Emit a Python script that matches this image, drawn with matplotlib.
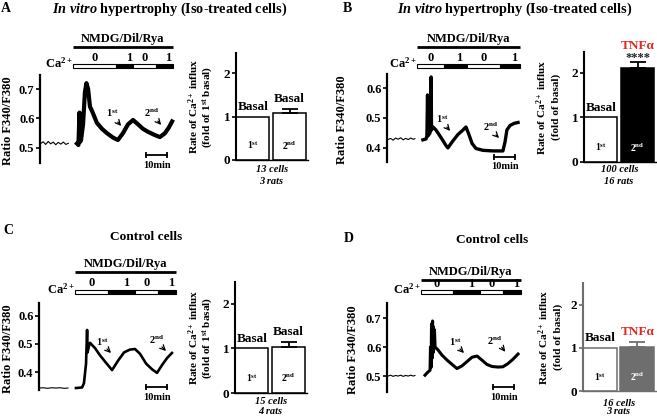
import matplotlib
matplotlib.use('Agg')
import matplotlib.pyplot as plt
from matplotlib.patches import Rectangle
from matplotlib.transforms import blended_transform_factory as btf

W, H = 657, 417
plt.rcParams.update({
    'font.family': ['Liberation Serif', 'DejaVu Serif'],
    'font.weight': 'bold',
    'mathtext.fontset': 'custom',
    'mathtext.rm': 'Liberation Serif:bold',
    'mathtext.it': 'Liberation Serif:italic:bold',
    'mathtext.bf': 'Liberation Serif:bold',
})

# ---------------- data ----------------
# traces: time (min) and ratio F340/F380
a_base_t = [0.3, 1.5, 2.7, 3.9, 5.1, 6.3, 7.5, 8.7, 9.9, 11.1, 12.3, 13.5]
a_base_v = [0.515, 0.521, 0.512, 0.522, 0.514, 0.520, 0.511, 0.519, 0.513, 0.520, 0.512, 0.516]
a_t = [17.6, 18.3, 18.8, 19.0, 19.5, 20.5, 21.4, 22.1, 22.9, 23.8, 24.8, 27.1, 29.5, 31.9, 34.8,
       37.1, 39.5, 41.9, 44.3, 46.7, 49.0, 51.4, 54.3, 57.1, 59.5, 61.4, 62.9]
a_v = [0.515, 0.510, 0.620, 0.520, 0.525, 0.580, 0.690, 0.720, 0.700, 0.640, 0.625, 0.585, 0.565,
       0.550, 0.535, 0.527, 0.550, 0.580, 0.595, 0.580, 0.565, 0.555, 0.545, 0.537, 0.550, 0.570, 0.590]

b_base_t = [0.5, 1.7, 2.9, 4.1, 5.3, 6.5, 7.7, 8.9, 10.1, 11.3, 12.5, 13.3]
b_base_v = [0.428, 0.432, 0.426, 0.433, 0.429, 0.434, 0.427, 0.432, 0.428, 0.433, 0.429, 0.431]
b_t = [17.1, 18.6, 19.0, 19.3, 19.5, 20.5, 21.0, 21.2, 21.9, 23.3, 25.7, 28.1, 29.0, 31.0, 33.8,
       36.2, 37.6, 39.0, 40.5, 42.4, 45.7, 50.5, 55.2, 56.2, 57.1, 58.6, 60.5, 62.4]
b_v = [0.427, 0.430, 0.440, 0.577, 0.440, 0.450, 0.637, 0.460, 0.470, 0.460, 0.435, 0.408, 0.400,
       0.420, 0.445, 0.460, 0.470, 0.445, 0.415, 0.398, 0.392, 0.390, 0.390, 0.420, 0.460, 0.475,
       0.482, 0.485]

c_base_t = [0.0, 2.0, 4.0, 6.0, 8.0, 10.0, 12.0, 13.8]
c_base_v = [0.343, 0.344, 0.342, 0.344, 0.343, 0.344, 0.342, 0.343]
c_t = [17.6, 20.5, 21.4, 22.4, 22.9, 23.1, 24.0, 24.3, 26.7, 29.0, 31.9, 34.8, 37.6, 40.5, 43.3,
       45.7, 48.1, 51.0, 53.8, 56.2, 58.6, 61.0, 63.3]
c_v = [0.343, 0.345, 0.360, 0.430, 0.550, 0.470, 0.500, 0.504, 0.485, 0.460, 0.433, 0.407, 0.440,
       0.470, 0.480, 0.482, 0.465, 0.430, 0.410, 0.397, 0.425, 0.450, 0.468]

d_base_t = [0.5, 1.7, 2.9, 4.1, 5.3, 6.5, 7.7, 8.9, 10.1, 11.3, 12.5, 13.3]
d_base_v = [0.500, 0.503, 0.499, 0.502, 0.500, 0.503, 0.499, 0.502, 0.500, 0.503, 0.500, 0.502]
d_t = [18.1, 19.5, 20.5, 20.7, 21.0, 21.2, 21.4, 21.7, 21.9, 22.1, 22.4, 22.6, 22.9, 24.3, 26.2,
       28.6, 31.0, 33.3, 35.7, 38.1, 40.5, 42.9, 45.2, 47.6, 50.0, 52.9, 55.2, 57.6, 60.0, 62.4]
d_v = [0.503, 0.514, 0.520, 0.600, 0.530, 0.680, 0.560, 0.690, 0.580, 0.670, 0.600, 0.660, 0.600,
       0.590, 0.572, 0.555, 0.540, 0.526, 0.535, 0.550, 0.565, 0.569, 0.555, 0.540, 0.533, 0.531,
       0.532, 0.543, 0.558, 0.576]

# Ca2+ protocol (state 0/1, boundaries in min)
a_proto_edges = [15.7, 36.2, 44.3, 55.2, 63.3]
b_proto_edges = [14.3, 27.1, 38.1, 53.8, 63.3]
c_proto_edges = [17.1, 32.9, 45.7, 56.7, 65.2]
d_proto_edges = [16.2, 31.4, 44.3, 55.2, 63.8]
proto_states = [0, 1, 0, 1]

# bar charts: rate of Ca2+ influx
bar_groups = ['1st', '2nd']
a_vals, a_errs = [1.0, 1.07], [0.0, 0.10]
b_vals, b_errs = [1.0, 2.12], [0.0, 0.13]
c_vals, c_errs = [1.0, 1.03], [0.0, 0.12]
d_vals, d_errs = [1.0, 1.02], [0.0, 0.13]
a_tops = ['Basal', 'Basal']
b_tops = ['Basal', 'TNFα']
c_tops = ['Basal', 'Basal']
d_tops = ['Basal', 'TNFα']

RED = '#e3261f'
GRAY = '#6e6e6e'

fig = plt.figure(figsize=(W / 100, H / 100), dpi=100)


def add_ax(l, t, r, b):
    return fig.add_axes([l / W, 1 - b / H, (r - l) / W, (b - t) / H])


def ftext(x, y, s, **kw):
    kw.setdefault('ha', 'center')
    kw.setdefault('va', 'center')
    return fig.text(x / W, 1 - y / H, s, **kw)


def farrow(x0, y0, x1, y1):
    fig.add_artist(matplotlib.patches.FancyArrowPatch(
        (x0 / W, 1 - y0 / H), (x1 / W, 1 - y1 / H), transform=fig.transFigure,
        arrowstyle='->', mutation_scale=9, lw=0.9, color='black'))


def trace_panel(box, ylim, yticks, bt, bv, t, v, lw, edges, nmdg_y, ca_y, lab_y,
                scale_t0, scale_y, arrows, ylab_x):
    l, tp, r, b = box
    ax = add_ax(*box)
    ax.set_xlim(0, (r - l) / 2.1)
    ax.set_ylim(*ylim)
    ax.plot(bt, bv, color='black', lw=0.8, clip_on=False)
    ax.plot(t, v, color='black', lw=lw, solid_joinstyle='round', clip_on=False)
    for s in ['top', 'right', 'bottom']:
        ax.spines[s].set_visible(False)
    ax.spines['left'].set_linewidth(1.6)
    ax.set_xticks([])
    ax.set_yticks(yticks)
    ax.set_yticklabels([f'{y:.1f}' for y in yticks])
    ax.tick_params(axis='y', length=3, width=1.2, labelsize=9, pad=1)
    ax.patch.set_alpha(0)
    ftext(ylab_x, (tp + b) / 2 + 2, 'Ratio F340/F380', rotation=90, fontsize=9)
    tr = btf(ax.transData, fig.transFigure)
    # NMDG bar
    ax.plot([edges[0], edges[-1]], [1 - nmdg_y / H] * 2, transform=tr, color='black',
            lw=2.0, clip_on=False, solid_capstyle='butt')
    ax.text((edges[0] + edges[-1]) / 2, 1 - (nmdg_y - 8) / H, 'NMDG/Dil/Rya', transform=tr,
            ha='center', va='center', fontsize=9)
    # Ca protocol bar
    hh = 4.0 / H
    for i, st in enumerate(proto_states):
        ax.add_patch(Rectangle((edges[i], 1 - ca_y / H - hh / 2), edges[i + 1] - edges[i], hh,
                               transform=tr, facecolor='black' if st else 'white',
                               edgecolor='black', lw=0.8, clip_on=False))
        ax.text((edges[i] + edges[i + 1]) / 2 + (2.0 if st else 0), 1 - lab_y / H, str(st),
                transform=tr, ha='center', va='center', fontsize=9)
    ax.text(edges[0] - 0.3, 1 - (ca_y - 3) / H, 'Ca$^{2+}$', transform=tr, ha='right',
            va='center', fontsize=9)
    # scale bar 10 min
    ax.plot([scale_t0, scale_t0 + 10], [1 - scale_y / H] * 2, transform=tr, color='black',
            lw=1.3, marker='|', ms=5, mew=1.3, clip_on=False)
    ax.text(scale_t0 + 5, 1 - (scale_y + 10) / H, '10min', transform=tr, ha='center',
            va='center', fontsize=7.5)
    for (tx, ty, s, x0, y0, x1, y1) in arrows:
        ftext(tx, ty, s, fontsize=7.5)
        farrow(x0, y0, x1, y1)
    return ax


def bar_panel(box, top_px, vals, errs, tops, top_colors, fills, edge, inner_colors,
              ylabel2, ylab_x, cells, cells_y, stars=False):
    l, tp, r, b = box
    ax = add_ax(*box)
    ax.set_ylim(0, top_px)
    ax.set_xlim(0, 2.15)
    xs = [0.5, 1.6]
    ax.bar(xs, vals, width=1.0, color=fills, edgecolor=edge, linewidth=1.1, zorder=2)
    for x, v, e in zip(xs, vals, errs):
        if e > 0:
            ax.errorbar([x], [v], yerr=[[0], [e]], color=edge,
                        lw=1.3, capsize=6, capthick=1.3, zorder=3)
    for i, (x, v, e, s, c) in enumerate(zip(xs, vals, errs, tops, top_colors)):
        off = 11.5 if (stars and i == 1) else 7.0
        ax.annotate(s, xy=(x, v + e), xytext=(0, off), textcoords='offset points',
                    ha='center', va='center', fontsize=9.5, color=c)
    for x, g, c in zip(xs, bar_groups, inner_colors):
        lab = g[0] + '$^{\\mathrm{' + g[1:] + '}}$'
        ax.text(x, 0.33, lab, ha='center', va='center', fontsize=7, color=c, zorder=4)
    if stars:
        ax.annotate('****', xy=(xs[1], vals[1] + errs[1]), xytext=(0, 3.0),
                    textcoords='offset points', ha='center', va='center', fontsize=9,
                    color='#222222')
    for s in ['top', 'right']:
        ax.spines[s].set_visible(False)
    ax.spines['left'].set_linewidth(1.5)
    ax.spines['bottom'].set_linewidth(1.0)
    ax.spines['left'].set_color(edge)
    ax.spines['bottom'].set_color(edge)
    ax.set_xticks([])
    ax.set_yticks([0, 1, 2])
    ax.tick_params(axis='y', length=3, width=1.2, labelsize=9.5, pad=1, color=edge)
    ax.patch.set_alpha(0)
    yc = (tp + b) / 2
    ftext(ylab_x[0], yc, 'Rate of Ca$^{2+}$ influx', rotation=90, fontsize=8.1)
    ftext(ylab_x[1], yc, ylabel2, rotation=90, fontsize=8.1)
    cx = (l + r) / 2
    ftext(cx, cells_y[0], cells[0], fontsize=7.5, style='italic')
    ftext(cx - 1, cells_y[1], cells[1], fontsize=7.5, style='italic')
    return ax


TITLE_FS = 10.3
SUB_FS = 9.6

# ---------------- panel A ----------------
ftext(6, 8, 'A', fontsize=10)
ftext(170, 9, r'$\mathit{In\ vitro}$ hypertrophy (Iso-treated cells)', fontsize=TITLE_FS)
trace_panel((40, 75, 176, 163), (0.449, 0.7475), [0.5, 0.6, 0.7], a_base_t, a_base_v, a_t, a_v,
            3.0, a_proto_edges, 47, 66, 58, 50.5, 155,
            [(112, 113, '1$^{\\mathrm{st}}$', 116, 120, 123, 128),
             (152, 113, '2$^{\\mathrm{nd}}$', 156, 119, 163, 127)], 8)
bar_panel((236, 53, 308, 160), 2.46, a_vals, a_errs, a_tops, ['black', 'black'],
          ['white', 'white'], 'black', ['black', 'black'],
          '(fold of 1$^{\\mathrm{st}}$ basal)', (194, 208), ('13 cells', '3 rats'), (170, 182))

# ---------------- panel B ----------------
ftext(347, 8, 'B', fontsize=10)
ftext(515, 9, r'$\mathit{In\ vitro}$ hypertrophy (Iso-treated cells)', fontsize=TITLE_FS)
trace_panel((387, 74, 522, 162), (0.353, 0.647), [0.4, 0.5, 0.6], b_base_t, b_base_v, b_t, b_v,
            2.4, b_proto_edges, 47, 66, 58, 51.0, 157,
            [(442, 119, '1$^{\\mathrm{st}}$', 445, 125, 452, 133),
             (491, 127, '2$^{\\mathrm{nd}}$', 494, 133, 501, 140)], 342)
bar_panel((584, 52, 656, 162), 2.47, b_vals, b_errs, b_tops, ['black', RED],
          ['white', 'black'], 'black', ['black', 'white'],
          '(fold of basal)', (542, 556), ('100 cells', '16 rats'), (170, 182), stars=True)

# ---------------- panel C ----------------
ftext(8, 231, 'C', fontsize=10)
ftext(146, 237, 'Control cells', fontsize=SUB_FS)
trace_panel((39, 303, 176, 390), (0.336, 0.646), [0.4, 0.5, 0.6], c_base_t, c_base_v, c_t, c_v,
            1.9, c_proto_edges, 272, 292, 283, 51.0, 387,
            [(102, 342, '1$^{\\mathrm{st}}$', 105, 347, 113, 355),
             (157, 340, '2$^{\\mathrm{nd}}$', 160, 345, 168, 353)], 8)
bar_panel((235, 282, 307, 393), 2.49, c_vals, c_errs, c_tops, ['black', 'black'],
          ['white', 'white'], 'black', ['black', 'black'],
          '(fold of 1$^{\\mathrm{st}}$ basal)', (194, 208), ('15 cells', '4 rats'), (402, 411))

# ---------------- panel D ----------------
ftext(349, 239, 'D', fontsize=10)
ftext(492, 240, 'Control cells', fontsize=SUB_FS)
trace_panel((387, 303, 522, 392), (0.445, 0.752), [0.5, 0.6, 0.7], d_base_t, d_base_v, d_t, d_v,
            2.2, d_proto_edges, 280, 292, 284, 50.5, 387,
            [(455, 342, '1$^{\\mathrm{st}}$', 458, 347, 466, 355),
             (495, 341, '2$^{\\mathrm{nd}}$', 500, 345, 507, 354)], 353)
bar_panel((583, 283, 656, 391), 2.51, d_vals, d_errs, d_tops, ['black', RED],
          ['white', GRAY], GRAY, ['black', 'white'],
          '(fold of basal)', (544, 558), ('16 cells', '3 rats'), (403, 412))

fig.savefig('out.png', dpi=100)
